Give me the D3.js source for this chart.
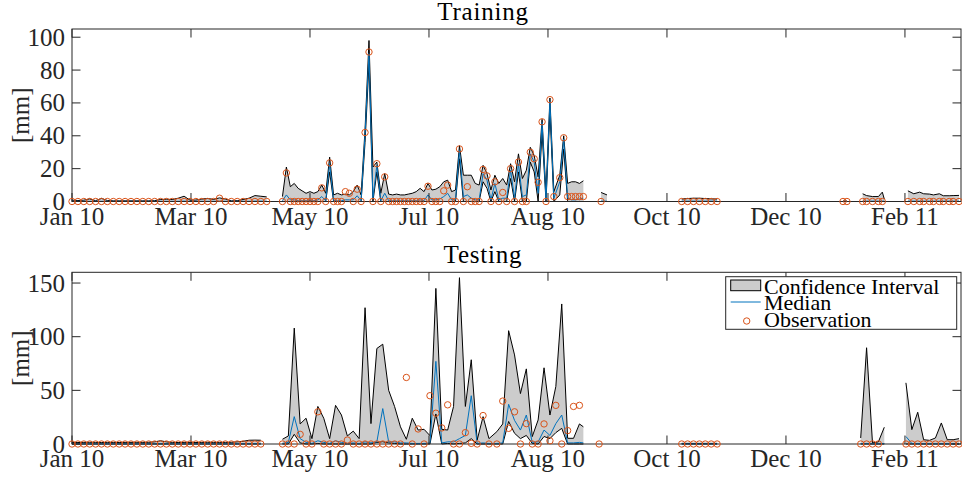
<!DOCTYPE html>
<html>
<head>
<meta charset="utf-8">
<script src="https://cdn.jsdelivr.net/npm/d3@7"></script>
<style>
  html, body { margin: 0; padding: 0; background: #fff; }
  svg { display: block; font-family: "Liberation Serif", "Times New Roman", serif; }
</style>
</head>
<body>
<svg id="chart" width="962" height="480"></svg>
<script>
// Time axis: days counted from 1 Jan 2010 (UTC)
const startDate = Date.UTC(2010, 0, 1);
const endDay = 452;
const tickDays = [0, 60.5, 121, 181.5, 242, 302.5, 363, 423.5];
const tickLabels = ["Jan 10", "Mar 10", "May 10", "Jul 10", "Aug 10", "Oct 10", "Dec 10", "Feb 11"];

// ---- Training period ----
const trainDays = [
  0, 3, 6, 9, 12, 15, 18, 21, 24, 27, 30, 33, 36, 39, 42, 45, 48, 51, 54, 57, 60, 63, 66, 69, 72, 75, 78, 81, 84, 87, 90, 93, 96, 99,
  107, 109, 111, 113, 115, 117, 119, 121, 123, 125, 127, 129, 131, 133, 135, 137, 139, 141, 143, 145, 147, 149, 151, 153, 155, 157,
  159, 161, 163, 165, 167, 169, 171, 173, 175, 177, 179, 181, 183, 185, 187, 189, 191, 193, 195, 197, 199, 201, 203, 205, 207,
  209, 211, 213, 215, 217, 219, 221, 223, 225, 227, 229, 231, 233, 235, 237, 239, 241, 243, 245, 248, 250, 252, 254, 256, 258, 260,
  269, 272,
  310, 313, 316, 319, 322, 325, 328,
  392, 394,
  402, 404, 407, 410, 412, 413,
  425, 428, 431, 433, 436, 438, 441, 443, 446, 448, 451
];
const trainObs = [
  0, 0, 0, 0, 0, 0, 0, 0, 0, 0, 0, 0, 0, 0, 0, 0, 0, 0, 0, 0, 0, 0, 0, 0, 0, 2, 0, 0, 0, 0, 0, 0, 0, 0,
  0, 17.4, 0, 0, 0, 0, 0, 0, 0, 0, 8.3, 0, 23.5, 0, 0, 0, 6, 5, 0, 7.5, 0, 42, 91, 0, 23, 0,
  15, 0, 0, 0, 0, 0, 0, 0, 0, 0, 0, 9.3, 0, 0, 0, 6.5, 10, 0, 0, 32, 0, 9, 0, 0, 0,
  19.5, 15.6, 0, 12, 0, 5.5, 0, 20, 0, 24, 0, 0, 30, 26, 11.7, 48.5, 0, 62, 3, 14.5, 38.8, 3, 3, 3, 3, 3,
  0, null,
  0, 0, 0, 0, 0, 0, 0,
  0, 0,
  0, 0, 0, 0, 0, null,
  0, 0, 0, 0, 0, 0, 0, 0, 0, 0, 0
];
const trainMed = [
  0.1, 0.1, 0.1, 0.1, 0.1, 0.1, 0.1, 0.1, 0.1, 0.1, 0.1, 0.1, 0.1, 0.1, 0.1, 0.1, 0.1, 0.1, 0.1, 0.2, 0.1, 0.1, 0.1, 0.1, 0.1, 0.2, 0.1, 0.1, 0.1, 0.1, 0.1, 0.2, 0.2, 0.1,
  0.5, 4, 1, 1, 0.5, 0.5, 0.5, 0.5, 0.5, 1, 3, 0.5, 23, 0.5, 0.5, 0.5, 1, 1, 1, 3.5, 0.5, 41, 90, 2, 22, 0.5,
  5, 0.5, 0.5, 0.5, 0.5, 0.5, 0.5, 0.5, 0.5, 1, 0.5, 4, 1, 1, 1.5, 3, 5, 1, 1, 31, 3, 4, 2, 1, 1,
  17, 13, 1, 11, 1, 2, 2, 19, 2, 23, 3, 4, 29, 24, 5, 48, 1, 61, 2, 12, 38, 2, 1, 1, 1.5, 2,
  0.2, 0.2,
  0.2, 0.2, 0.2, 0.2, 0.2, 0.2, 0.2,
  0.1, 0.1,
  0.2, 0.2, 0.2, 0.2, 0.2, 0.2,
  0.2, 0.2, 0.2, 0.2, 0.2, 0.2, 0.2, 0.2, 0.2, 0.2, 0.2
];
const trainLo = [
  0, 0, 0, 0, 0, 0, 0, 0, 0, 0, 0, 0, 0, 0, 0, 0, 0, 0, 0, 0, 0, 0, 0, 0, 0, 0, 0, 0, 0, 0, 0, 0, 0, 0,
  0, 0, 0, 0, 0, 0, 0, 0, 0, 0, 0, 0, 18, 0, 0, 0, 0, 0, 0, 0, 0, 36, 84, 0, 18, 0,
  0, 0, 0, 0, 0, 0, 0, 0, 0, 0, 0, 0, 0, 0, 0, 0, 0, 0, 0, 26, 0, 0, 0, 0, 0,
  12, 8, 0, 6, 0, 0, 0, 14, 0, 18, 0, 0, 24, 18, 0, 42, 0, 55, 0, 4, 32, 0, 0, 0, 0, 0,
  0, 0,
  0, 0, 0, 0, 0, 0, 0,
  0, 0,
  0, 0, 0, 0, 0, 0,
  0, 0, 0, 0, 0, 0, 0, 0, 0, 0, 0
];
const trainHi = [
  0.8, 0.6, 0.8, 1.6, 0.5, 1.9, 0.6, 0.4, 0.4, 0.4, 0.4, 0.4, 0.4, 0.4, 0.5, 1.2, 1.4, 1.2, 2.0, 3.2, 0.8, 0.9, 1.5, 1.8, 1.3, 2.2, 1.5, 0.4, 0.5, 1.2, 2.0, 3.6, 3.2, 2.8,
  3, 21, 9, 11, 8, 6.5, 5, 6, 5, 6, 10, 5, 27, 4, 5, 4, 4.5, 4, 6, 10, 4, 44, 98, 21, 24, 5,
  17, 4.5, 4, 4.5, 4, 4, 4.5, 5, 6, 8, 6, 11, 7, 7.5, 9, 12, 13, 6, 7, 34, 16, 16, 16, 11, 10,
  22, 17, 7, 16, 11, 14, 10, 23, 12, 29, 14, 19, 33, 28, 15, 50, 5, 63, 6, 16, 40, 11, 12, 12, 11, 12.6,
  5.5, 4,
  1.5, 1.8, 2.0, 2.0, 1.8, 1.6, 1.5,
  0.3, 0.3,
  4.7, 3.6, 3.0, 3.0, 5.7, 1.5,
  6.5, 4.7, 5.7, 4.7, 4.5, 4.0, 4.7, 3.5, 3.5, 3.6, 3.7
];

// ---- Testing period ----
const testDays = [
  0, 3, 6, 9, 12, 15, 18, 21, 24, 27, 30, 33, 36, 39, 42, 45, 48, 51, 54, 57, 60, 63, 66, 69, 72, 75, 78, 81, 84, 87, 90, 93, 96,
  107, 110, 113, 116, 119, 122, 125, 128, 131, 134, 137, 140, 143, 146, 149, 152, 155, 158, 161, 164, 167, 170, 173, 176, 179,
  182, 185, 188, 191, 194, 197, 200, 203, 206, 209, 212, 216, 219, 222, 225, 228, 231, 234, 237, 240, 243, 246, 249, 252, 255, 258, 260,
  268,
  310, 313, 316, 319, 322, 325, 328,
  401, 404, 407, 410, 413,
  424, 427, 430, 433, 436, 439, 442, 445, 448, 451
];
const testObs = [
  0, 0, 0, 0, 0, 0, 0, 0, 0, 0, 0, 0, 0, 0, 0, 0, 0, 0, 0, 0, 0, 0, 0, 0, 0, 0, 0, 0, 0, 0, 0, 0, 0,
  0, 0, 0, 9, 0, 0, 30, 0, 0, 0, 0, 3.7, 0, 0, 0, 0, 0, 0, 0, 0, 0, 62, 0, 14, 0,
  45, 28.7, 15, 36.5, 0, 0, 10.6, 0.6, 0, 26.5, 0, 0, 40, 14.6, 30, 0, 19, 0, 0, 18.7, 3, 36, 0, 12.5, 35, 36, null,
  0,
  0, 0, 0, 0, 0, 0, 0,
  0, 0, 0, 0, null,
  0, 0, 0, 0, 0, 0, 0, 0, 0, 0
];
const testMed = [
  0.2, 0.2, 0.2, 0.2, 0.2, 0.2, 0.2, 0.2, 0.2, 0.2, 0.2, 0.2, 0.2, 0.2, 0.2, 0.3, 0.2, 0.2, 0.2, 0.2, 0.2, 0.2, 0.2, 0.2, 0.2, 0.2, 0.2, 0.2, 0.2, 0.3, 0.3, 0.4, 0.4,
  0.5, 1.5, 25.5, 5, 1.5, 0.5, 3, 1.5, 0.5, 3, 1.5, 0.5, 1, 0.5, 2, 1, 2, 33, 2, 2, 1, 1, 0.5, 0.5, 0.5,
  1, 77, 1, 2, 2, 5, 8, 45, 0.5, 1, 0.5, 0.5, 1, 37, 22, 13, 27, 1.5, 2, 13, 8, 19, 27, 1, 1, 1.5, 1,
  0.2,
  0.1, 0.1, 0.1, 0.1, 0.1, 0.1, 0.1,
  0.3, 0.5, 0.2, 0.2, 0.5,
  7, 0.5, 0.3, 0.2, 0.2, 0.2, 0.3, 0.2, 0.2, 0.2
];
const testLo = [
  0, 0, 0, 0, 0, 0, 0, 0, 0, 0, 0, 0, 0, 0, 0, 0, 0, 0, 0, 0, 0, 0, 0, 0, 0, 0, 0, 0, 0, 0, 0, 0, 0,
  0, 0, 9, 1, 0, 0, 0.5, 0, 0, 0, 0, 0, 0, 0, 0, 0, 1.5, 2, 1, 0.5, 0, 0, 0, 0, 0,
  0, 28, 0, 0.5, 0, 0.5, 1, 5, 0, 0, 0, 0, 0, 21, 10, 5, 8, 0.5, 0, 7, 5, 10.6, 14.6, 0, 0, 0, 0,
  0,
  0, 0, 0, 0, 0, 0, 0,
  0, 0, 0, 0, 0,
  0, 0, 0, 0, 0, 0, 0, 0, 0, 0
];
const testHi = [
  1.5, 1.4, 1.5, 1.6, 1.5, 1.4, 1.5, 1.5, 1.4, 1.5, 1.5, 1.6, 1.5, 1.6, 2.0, 3.0, 2.0, 1.5, 1.4, 1.5, 1.5, 1.4, 1.5, 1.6, 1.5, 1.5, 1.5, 1.6, 2.0, 2.5, 3.5, 3.6, 3.5,
  4.4, 7.5, 108, 18.7, 24, 5, 35, 24, 5, 36, 27, 7.5, 12, 5, 127, 19, 89, 93, 50, 35, 16, 4.4, 24, 13, 13.7,
  7.8, 145, 13.7, 13, 35, 155, 35, 78.5, 3.7, 25.5, 5, 11.5, 18.7, 105.6, 83, 47, 70, 6.9, 22.4, 71, 27, 53.6, 130.5, 5.3, 5.3, 18.7, 16,
  1.5,
  0.6, 0.6, 0.6, 0.6, 0.6, 0.6, 0.6,
  5.6, 89.7, 1, 2, 15.6,
  57, 13.4, 29.6, 4, 3.4, 5.6, 19.6, 4, 4, 5
];

const yTicksTrain = [0, 20, 40, 60, 80, 100];
const yTicksTest = [0, 50, 100, 150];
const legendLabels = ["Confidence Interval", "Median", "Observation"];

// ---- Styling ----
const axisColor = "#262626";
const fillGray = "#cccccc";
const medianBlue = "#0072BD";
const obsOrange = "#D95319";
const left = 72, right = 961;
const tickFont = 25;

const svg = d3.select("#chart");
const toDate = d => new Date(startDate + d * 864e5);

const x = d3.scaleUtc()
  .domain([toDate(0), toDate(endDay)])
  .range([left, right]);

const panels = [
  { title: "Training", top: 29, bottom: 201.5, yMax: 105, yTicks: yTicksTrain,
    days: trainDays, obs: trainObs, med: trainMed, lo: trainLo, hi: trainHi, legend: false },
  { title: "Testing", top: 272.3, bottom: 444, yMax: 160, yTicks: yTicksTest,
    days: testDays, obs: testObs, med: testMed, lo: testLo, hi: testHi, legend: true }
];

// Split indices into runs; a gap longer than 5 days ends a run
function runs(days) {
  const out = [];
  let cur = [0];
  for (let i = 1; i < days.length; i++) {
    if (days[i] - days[i - 1] > 5) { out.push(cur); cur = [i]; }
    else cur.push(i);
  }
  out.push(cur);
  return out;
}

panels.forEach(p => {
  const y = d3.scaleLinear().domain([0, p.yMax]).range([p.bottom, p.top]);
  const g = svg.append("g");
  const segs = runs(p.days);
  const xd = i => x(toDate(p.days[i]));

  const area = d3.area().x(xd).y0(i => y(p.lo[i])).y1(i => y(p.hi[i]));
  const hiLine = d3.line().x(xd).y(i => y(p.hi[i]));
  const loLine = d3.line().x(xd).y(i => y(p.lo[i]));
  const medLine = d3.line().x(xd).y(i => y(p.med[i]));

  // Confidence band
  segs.forEach(s => {
    g.append("path").attr("d", area(s)).attr("fill", fillGray).attr("stroke", "none");
  });
  segs.forEach(s => {
    if (s.length < 2) return;
    g.append("path").attr("d", hiLine(s)).attr("fill", "none").attr("stroke", "#000").attr("stroke-width", 1);
    g.append("path").attr("d", loLine(s)).attr("fill", "none").attr("stroke", "#000").attr("stroke-width", 1);
  });
  // Median
  segs.forEach(s => {
    if (s.length < 2) return;
    g.append("path").attr("d", medLine(s)).attr("fill", "none").attr("stroke", medianBlue).attr("stroke-width", 1);
  });

  // Axes frame and ticks
  const ax = svg.append("g");
  ax.append("rect")
    .attr("x", left).attr("y", p.top)
    .attr("width", right - left).attr("height", p.bottom - p.top)
    .attr("fill", "none").attr("stroke", axisColor).attr("stroke-width", 1);

  const tl = 8.5;
  tickDays.forEach((d, i) => {
    const tx = x(toDate(d));
    ax.append("line").attr("x1", tx).attr("x2", tx).attr("y1", p.bottom).attr("y2", p.bottom - tl)
      .attr("stroke", axisColor);
    ax.append("line").attr("x1", tx).attr("x2", tx).attr("y1", p.top).attr("y2", p.top + tl)
      .attr("stroke", axisColor);
    ax.append("text").attr("x", tx).attr("y", p.bottom + 23)
      .attr("text-anchor", "middle").attr("font-size", tickFont).attr("fill", axisColor)
      .text(tickLabels[i]);
  });
  p.yTicks.forEach(v => {
    const ty = y(v);
    ax.append("line").attr("x1", left).attr("x2", left + tl).attr("y1", ty).attr("y2", ty)
      .attr("stroke", axisColor);
    ax.append("line").attr("x1", right).attr("x2", right - tl).attr("y1", ty).attr("y2", ty)
      .attr("stroke", axisColor);
    ax.append("text").attr("x", 65).attr("y", ty + 8.5)
      .attr("text-anchor", "end").attr("font-size", tickFont).attr("fill", axisColor)
      .text(v);
  });

  // Observations (drawn over the frame, unclipped)
  const obsIdx = d3.range(p.days.length).filter(i => p.obs[i] !== null);
  svg.append("g").selectAll("circle").data(obsIdx).join("circle")
    .attr("cx", xd).attr("cy", i => y(p.obs[i])).attr("r", 3.2)
    .attr("fill", "none").attr("stroke", obsOrange).attr("stroke-width", 1);

  // Title and y label
  svg.append("text").attr("x", 483).attr("y", p.top - 9)
    .attr("text-anchor", "middle").attr("font-size", 25).attr("letter-spacing", 0.8).attr("fill", "#000")
    .text(p.title);
  svg.append("text")
    .attr("transform", `translate(29,${(p.top + p.bottom) / 2}) rotate(-90)`)
    .attr("text-anchor", "middle").attr("font-size", tickFont).attr("fill", axisColor)
    .text("[mm]");

  // Legend
  if (p.legend) {
    const lg = svg.append("g");
    lg.append("rect").attr("x", 725.7).attr("y", 276.7).attr("width", 231).attr("height", 52.6)
      .attr("fill", "#fff").attr("stroke", axisColor).attr("stroke-width", 1);
    lg.append("rect").attr("x", 730.7).attr("y", 280).attr("width", 30).attr("height", 10.7)
      .attr("fill", fillGray).attr("stroke", "#000").attr("stroke-width", 1);
    lg.append("line").attr("x1", 730.7).attr("x2", 760.7).attr("y1", 302).attr("y2", 302)
      .attr("stroke", medianBlue).attr("stroke-width", 1);
    lg.append("circle").attr("cx", 746.7).attr("cy", 321).attr("r", 3.2)
      .attr("fill", "none").attr("stroke", obsOrange).attr("stroke-width", 1);
    const ys = [294, 310, 326.7];
    legendLabels.forEach((t, i) => {
      lg.append("text").attr("x", 764).attr("y", ys[i]).attr("font-size", 22).attr("fill", "#000").text(t);
    });
  }
});
</script>
</body>
</html>
